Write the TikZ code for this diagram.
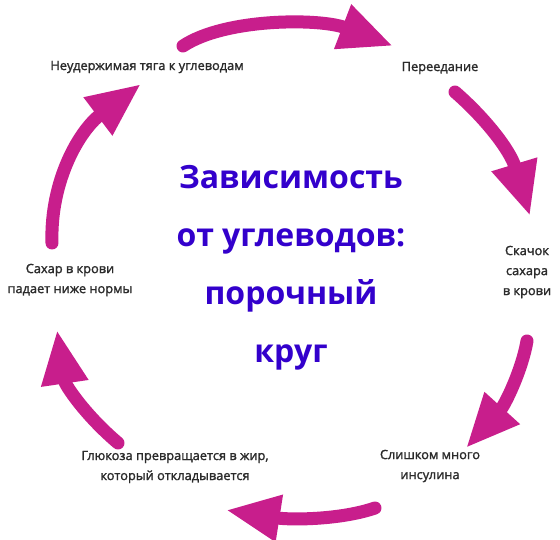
\documentclass[tikz,border=0pt]{standalone}
\usepackage{fontspec}
\setmainfont{Open Sans}
\newfontfamily\stagefont[FakeBold=1.6]{Open Sans}
\usetikzlibrary{arrows.meta,calc,positioning}
\definecolor{vcink}{HTML}{2B2B2B}
\definecolor{vctitle}{HTML}{3300CC}
\definecolor{vcarrow}{HTML}{C81E8C}
\tikzset{
  every picture/.style={text=vcink},
  step label/.style={align=center,font=\stagefont\fontsize{12.8}{20}\selectfont},
  cycle arrow/.style={draw=vcarrow,line width=13pt,line cap=round,
    -{Triangle[length=54pt,width=44pt,fill=vcarrow]}},
  heading/.style={align=center,text=vctitle,
    font=\fontsize{32}{58}\selectfont\bfseries},
}
\begin{document}
\begin{tikzpicture}[x=1pt,y=-1pt]
  \path[use as bounding box,fill=white] (0,0) rectangle (560,540);
  % the six stages, clockwise from the top left
  \node[step label] (crave) at (147,67) {Неудержимая тяга к углеводам};
  \node[step label] (overeat) at (440,68) {Переедание};
  \node[step label] (spike) at (527,272) {Скачок\\сахара\\в крови};
  \node[step label] (insulin) at (430,466) {Слишком много\\инсулина};
  \node[step label] (fat) at (175,467) {Глюкоза превращается в жир,\\который откладывается};
  \node[step label] (drop) at (70,280) {Сахар в крови\\падает ниже нормы};
  \node[heading] (title) at (291,268) {Зависимость\\от углеводов:\\порочный\\круг};
  % arrow ends
  \coordinate (t1) at (183,46);  \coordinate (h1) at (393,46);
  \coordinate (t2) at (455,92);  \coordinate (h2) at (530,216);
  \coordinate (t3) at (527,341); \coordinate (h3) at (466,448);
  \coordinate (t4) at (375,508); \coordinate (h4) at (226,510);
  \coordinate (t5) at (118,443); \coordinate (h5) at (57,330);
  \coordinate (t6) at (52,243);  \coordinate (h6) at (141,84);
  \draw[cycle arrow] (t1) .. controls (225,18) and (320,18) .. (h1);
  \draw[cycle arrow] (t2) .. controls (485,118) and (510,150) .. (h2);
  \draw[cycle arrow] (t3) .. controls (522,370) and (505,405) .. (h3);
  \draw[cycle arrow] (t4) .. controls (340,520) and (290,520) .. (h4);
  \draw[cycle arrow] (t5) .. controls (85,415) and (65,385) .. (h5);
  \draw[cycle arrow] (t6) .. controls (50,180) and (80,130) .. (h6);
\end{tikzpicture}
\end{document}
